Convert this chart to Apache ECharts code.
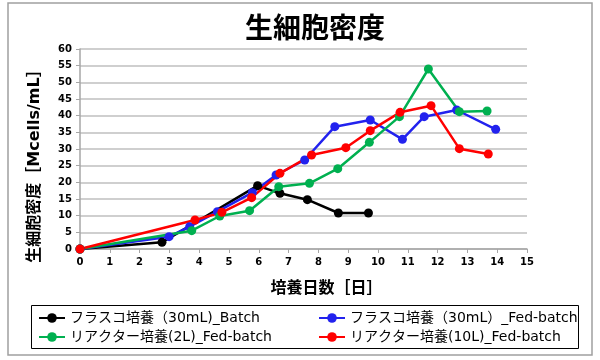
<!DOCTYPE html>
<html>
<head>
<meta charset="utf-8">
<script src="https://cdn.jsdelivr.net/npm/echarts@6/dist/echarts.min.js"></script>
<style>html,body{margin:0;padding:0;background:#fff}#c{width:600px;height:360px}</style>
</head>
<body>
<div id="c"></div>
<script>
const seriesNames = [
  'フラスコ培養（30mL)_Batch',
  'フラスコ培養（30mL）_Fed-batch',
  'リアクター培養(2L)_Fed-batch',
  'リアクター培養(10L)_Fed-batch'
];
const batchX = [0, 2.75, 5.96, 6.71, 7.63, 8.67, 9.68];
const batchY = [0, 2.0, 19.0, 16.7, 14.8, 10.8, 10.8];
const fedX = [0, 2.99, 3.68, 4.61, 5.78, 6.58, 7.54, 8.55, 9.74, 10.82, 11.55, 12.64, 13.95];
const fedY = [0, 3.7, 6.7, 11.2, 16.9, 22.2, 26.7, 36.7, 38.7, 32.9, 39.7, 41.7, 35.9];
const r2X = [0, 3.75, 4.69, 5.69, 6.67, 7.70, 8.65, 9.71, 10.72, 11.69, 12.73, 13.66];
const r2Y = [0, 5.5, 9.9, 11.5, 18.7, 19.7, 24.1, 32.0, 39.7, 54.0, 41.2, 41.4];
const r10X = [0, 3.86, 4.76, 5.76, 6.71, 7.77, 8.92, 9.74, 10.74, 11.78, 12.73, 13.70];
const r10Y = [0, 8.7, 11.0, 15.4, 22.7, 28.2, 30.4, 35.5, 41.0, 43.0, 30.1, 28.5];
const colors = ['#000000', '#2222ee', '#00b050', '#ff0000'];
const title = '生細胞密度';
const xName = '培養日数［日］';
const yName = '生細胞密度［Mcells/mL］';

const zip = (xs, ys) => xs.map((x, i) => [x, ys[i]]);
const datas = [zip(batchX, batchY), zip(fedX, fedY), zip(r2X, r2Y), zip(r10X, r10Y)];

const chart = echarts.init(document.getElementById('c'));
const boldFont = 'DejaVu Sans, Noto Sans CJK JP';
const legendText = {fontSize: 14, color: '#000', fontFamily: 'DejaVu Sans, Noto Sans CJK JP'};
chart.setOption({
  animation: false,
  color: colors,
  title: {
    text: title, left: 240, top: 8,
    textStyle: {fontSize: 28, fontWeight: 'bold', color: '#000', fontFamily: 'Noto Sans CJK JP'}
  },
  graphic: [
    {type: 'rect', shape: {x: 8, y: 3, width: 584, height: 352}, style: {fill: 'none', stroke: '#a0a0a0', lineWidth: 1.5}, silent: true},
    {type: 'rect', shape: {x: 31.5, y: 305.5, width: 547, height: 43}, style: {fill: 'none', stroke: '#000', lineWidth: 1}, silent: true}
  ],
  grid: {left: 80, right: 73, top: 49, bottom: 111},
  legend: [
    {data: [seriesNames[0], seriesNames[2]], orient: 'vertical', left: 33, top: 306, itemWidth: 26, itemHeight: 12, itemGap: 5, textStyle: legendText},
    {data: [seriesNames[1], seriesNames[3]], orient: 'vertical', left: 313, top: 306, itemWidth: 26, itemHeight: 12, itemGap: 5, textStyle: legendText}
  ],
  xAxis: {
    type: 'value', min: 0, max: 15, interval: 1,
    name: xName, nameLocation: 'middle', nameGap: 30,
    nameTextStyle: {fontSize: 16, fontWeight: 'bold', color: '#000', fontFamily: 'Noto Sans CJK JP', padding: [0, 0, 0, 46]},
    axisLine: {lineStyle: {color: '#a6a6a6', width: 1.5}},
    axisTick: {show: true, length: 4, lineStyle: {color: '#a6a6a6'}},
    axisLabel: {fontSize: 10, fontWeight: 'bold', color: '#000', fontFamily: boldFont, margin: 8},
    splitLine: {show: false}
  },
  yAxis: {
    type: 'value', min: 0, max: 60, interval: 5,
    name: yName, nameLocation: 'middle', nameGap: 37, nameRotate: 90,
    nameTextStyle: {fontSize: 16, fontWeight: 'bold', color: '#000', fontFamily: 'DejaVu Sans, Noto Sans CJK JP', padding: [0, 26, 0, 0]},
    axisLine: {show: true, lineStyle: {color: '#a6a6a6', width: 1.5}},
    axisTick: {show: true, length: 4, lineStyle: {color: '#a6a6a6'}},
    axisLabel: {fontSize: 10, fontWeight: 'bold', color: '#000', fontFamily: boldFont, margin: 8},
    splitLine: {show: true, lineStyle: {color: '#bfbfbf', width: 1.5}}
  },
  series: seriesNames.map((n, i) => ({
    name: n, type: 'line', data: datas[i],
    symbol: 'circle', symbolSize: 9,
    lineStyle: {width: 2.5, color: colors[i]},
    itemStyle: {color: colors[i]}
  }))
});
</script>
</body>
</html>
